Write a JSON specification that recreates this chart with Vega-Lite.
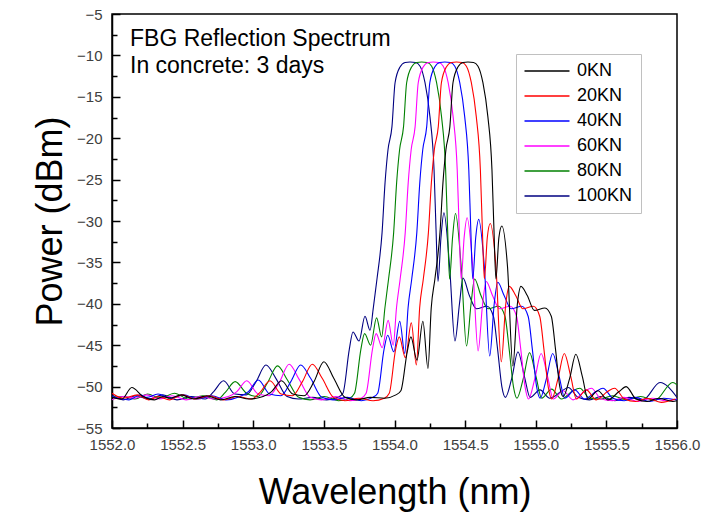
{
"$schema":"https://vega.github.io/schema/vega-lite/v6.json",
"width":565,"height":414,
"autosize":{"type":"none"},
"padding":{"left":112,"top":14,"right":25,"bottom":87},
"background":"white",
"config":{"font":"Liberation Sans","view":{"stroke":"black","strokeWidth":1.5}},
"title":{"text":"FBG Reflection Spectrum","subtitle":"In concrete: 3 days","anchor":"start","frame":"group","orient":"top","offset":-71,"dx":18,"fontSize":23,"fontWeight":"normal","color":"black","subtitleFontSize":23,"subtitleColor":"black","subtitlePadding":4,"font":"Liberation Sans","subtitleFont":"Liberation Sans"},
"datasets":{"spec":[
{"k":"100KN","w":1552.00,"p":-51.0},{"k":"100KN","w":1552.08,"p":-51.6},{"k":"100KN","w":1552.17,"p":-51.1},{"k":"100KN","w":1552.26,"p":-51.5},{"k":"100KN","w":1552.36,"p":-51.0},{"k":"100KN","w":1552.46,"p":-51.6},{"k":"100KN","w":1552.56,"p":-51.2},{"k":"100KN","w":1552.66,"p":-51.5},{"k":"100KN","w":1552.72,"p":-50.6},{"k":"100KN","w":1552.79,"p":-49.3},{"k":"100KN","w":1552.87,"p":-50.9},{"k":"100KN","w":1552.95,"p":-51.0},{"k":"100KN","w":1553.02,"p":-49.4},{"k":"100KN","w":1553.09,"p":-47.4},{"k":"100KN","w":1553.16,"p":-49.0},{"k":"100KN","w":1553.24,"p":-51.2},{"k":"100KN","w":1553.32,"p":-51.5},{"k":"100KN","w":1553.42,"p":-51.3},{"k":"100KN","w":1553.52,"p":-51.6},{"k":"100KN","w":1553.60,"p":-51.3},{"k":"100KN","w":1553.635,"p":-50.8},{"k":"100KN","w":1553.68,"p":-45.5},{"k":"100KN","w":1553.706,"p":-43.4},{"k":"100KN","w":1553.749,"p":-44.5},{"k":"100KN","w":1553.791,"p":-41.5},{"k":"100KN","w":1553.827,"p":-43.2},{"k":"100KN","w":1553.85,"p":-40.5},{"k":"100KN","w":1553.876,"p":-37.0},{"k":"100KN","w":1553.912,"p":-31.4},{"k":"100KN","w":1553.933,"p":-25.4},{"k":"100KN","w":1553.954,"p":-21.4},{"k":"100KN","w":1553.982,"p":-18.6},{"k":"100KN","w":1554.004,"p":-13.3},{"k":"100KN","w":1554.039,"p":-11.4},{"k":"100KN","w":1554.075,"p":-10.85},{"k":"100KN","w":1554.11,"p":-10.8},{"k":"100KN","w":1554.15,"p":-10.85},{"k":"100KN","w":1554.181,"p":-11.3},{"k":"100KN","w":1554.216,"p":-13.3},{"k":"100KN","w":1554.251,"p":-17.4},{"k":"100KN","w":1554.28,"p":-23.8},{"k":"100KN","w":1554.294,"p":-31.0},{"k":"100KN","w":1554.308,"p":-37.3},{"k":"100KN","w":1554.329,"p":-32.0},{"k":"100KN","w":1554.35,"p":-29.0},{"k":"100KN","w":1554.39,"p":-35.5},{"k":"100KN","w":1554.428,"p":-44.5},{"k":"100KN","w":1554.46,"p":-40.0},{"k":"100KN","w":1554.485,"p":-36.9},{"k":"100KN","w":1554.53,"p":-39.0},{"k":"100KN","w":1554.58,"p":-40.6},{"k":"100KN","w":1554.655,"p":-40.3},{"k":"100KN","w":1554.70,"p":-41.5},{"k":"100KN","w":1554.73,"p":-45.5},{"k":"100KN","w":1554.76,"p":-50.0},{"k":"100KN","w":1554.785,"p":-51.3},{"k":"100KN","w":1554.83,"p":-49.0},{"k":"100KN","w":1554.874,"p":-45.8},{"k":"100KN","w":1554.92,"p":-48.8},{"k":"100KN","w":1554.96,"p":-51.3},{"k":"100KN","w":1555.03,"p":-50.4},{"k":"100KN","w":1555.10,"p":-51.4},{"k":"100KN","w":1555.18,"p":-50.6},{"k":"100KN","w":1555.23,"p":-50.1},{"k":"100KN","w":1555.30,"p":-51.3},{"k":"100KN","w":1555.38,"p":-51.6},{"k":"100KN","w":1555.46,"p":-51.2},{"k":"100KN","w":1555.56,"p":-51.7},{"k":"100KN","w":1555.66,"p":-51.3},{"k":"100KN","w":1555.76,"p":-51.6},{"k":"100KN","w":1555.88,"p":-49.5},{"k":"100KN","w":1556.00,"p":-51.3},

{"k":"80KN","w":1552.00,"p":-51.3},{"k":"80KN","w":1552.082,"p":-51.2},{"k":"80KN","w":1552.162,"p":-51.5},{"k":"80KN","w":1552.252,"p":-50.9},{"k":"80KN","w":1552.342,"p":-51.4},{"k":"80KN","w":1552.442,"p":-50.8},{"k":"80KN","w":1552.542,"p":-51.5},{"k":"80KN","w":1552.642,"p":-51.1},{"k":"80KN","w":1552.742,"p":-51.6},{"k":"80KN","w":1552.802,"p":-50.7},{"k":"80KN","w":1552.872,"p":-49.4},{"k":"80KN","w":1552.952,"p":-50.8},{"k":"80KN","w":1553.032,"p":-51.2},{"k":"80KN","w":1553.102,"p":-49.5},{"k":"80KN","w":1553.172,"p":-47.5},{"k":"80KN","w":1553.242,"p":-49.2},{"k":"80KN","w":1553.322,"p":-51.3},{"k":"80KN","w":1553.402,"p":-51.6},{"k":"80KN","w":1553.502,"p":-51.2},{"k":"80KN","w":1553.602,"p":-51.7},{"k":"80KN","w":1553.682,"p":-51.4},{"k":"80KN","w":1553.717,"p":-50.8},{"k":"80KN","w":1553.762,"p":-45.5},{"k":"80KN","w":1553.788,"p":-43.6},{"k":"80KN","w":1553.831,"p":-45.0},{"k":"80KN","w":1553.873,"p":-41.7},{"k":"80KN","w":1553.909,"p":-44.0},{"k":"80KN","w":1553.932,"p":-40.5},{"k":"80KN","w":1553.958,"p":-37.0},{"k":"80KN","w":1553.994,"p":-31.4},{"k":"80KN","w":1554.015,"p":-25.4},{"k":"80KN","w":1554.036,"p":-21.4},{"k":"80KN","w":1554.064,"p":-18.6},{"k":"80KN","w":1554.086,"p":-13.3},{"k":"80KN","w":1554.121,"p":-11.4},{"k":"80KN","w":1554.157,"p":-10.85},{"k":"80KN","w":1554.192,"p":-10.8},{"k":"80KN","w":1554.232,"p":-10.85},{"k":"80KN","w":1554.263,"p":-11.3},{"k":"80KN","w":1554.298,"p":-13.3},{"k":"80KN","w":1554.333,"p":-17.4},{"k":"80KN","w":1554.362,"p":-23.8},{"k":"80KN","w":1554.376,"p":-31.0},{"k":"80KN","w":1554.39,"p":-37.0},{"k":"80KN","w":1554.411,"p":-32.0},{"k":"80KN","w":1554.432,"p":-29.1},{"k":"80KN","w":1554.472,"p":-35.5},{"k":"80KN","w":1554.51,"p":-45.1},{"k":"80KN","w":1554.542,"p":-40.0},{"k":"80KN","w":1554.567,"p":-37.0},{"k":"80KN","w":1554.612,"p":-39.0},{"k":"80KN","w":1554.662,"p":-40.6},{"k":"80KN","w":1554.737,"p":-40.3},{"k":"80KN","w":1554.782,"p":-41.5},{"k":"80KN","w":1554.812,"p":-45.5},{"k":"80KN","w":1554.842,"p":-50.0},{"k":"80KN","w":1554.867,"p":-51.4},{"k":"80KN","w":1554.912,"p":-49.0},{"k":"80KN","w":1554.956,"p":-45.9},{"k":"80KN","w":1555.002,"p":-48.8},{"k":"80KN","w":1555.042,"p":-51.4},{"k":"80KN","w":1555.112,"p":-50.3},{"k":"80KN","w":1555.182,"p":-51.5},{"k":"80KN","w":1555.262,"p":-50.5},{"k":"80KN","w":1555.312,"p":-50.2},{"k":"80KN","w":1555.382,"p":-51.4},{"k":"80KN","w":1555.462,"p":-51.5},{"k":"80KN","w":1555.542,"p":-51.1},{"k":"80KN","w":1555.642,"p":-51.6},{"k":"80KN","w":1555.742,"p":-51.2},{"k":"80KN","w":1555.842,"p":-51.7},{"k":"80KN","w":1555.97,"p":-49.5},{"k":"80KN","w":1556.00,"p":-49.8},

{"k":"60KN","w":1552.00,"p":-51.6},{"k":"60KN","w":1552.08,"p":-51.2},{"k":"60KN","w":1552.164,"p":-51.4},{"k":"60KN","w":1552.244,"p":-51.0},{"k":"60KN","w":1552.334,"p":-51.5},{"k":"60KN","w":1552.424,"p":-51.1},{"k":"60KN","w":1552.524,"p":-51.6},{"k":"60KN","w":1552.624,"p":-51.2},{"k":"60KN","w":1552.724,"p":-51.5},{"k":"60KN","w":1552.824,"p":-51.2},{"k":"60KN","w":1552.884,"p":-50.6},{"k":"60KN","w":1552.954,"p":-49.3},{"k":"60KN","w":1553.034,"p":-50.9},{"k":"60KN","w":1553.114,"p":-51.1},{"k":"60KN","w":1553.184,"p":-49.5},{"k":"60KN","w":1553.254,"p":-47.3},{"k":"60KN","w":1553.324,"p":-49.1},{"k":"60KN","w":1553.404,"p":-51.3},{"k":"60KN","w":1553.484,"p":-51.6},{"k":"60KN","w":1553.584,"p":-51.2},{"k":"60KN","w":1553.684,"p":-51.7},{"k":"60KN","w":1553.764,"p":-51.4},{"k":"60KN","w":1553.799,"p":-50.8},{"k":"60KN","w":1553.844,"p":-45.5},{"k":"60KN","w":1553.87,"p":-43.6},{"k":"60KN","w":1553.913,"p":-45.3},{"k":"60KN","w":1553.955,"p":-42.0},{"k":"60KN","w":1553.991,"p":-45.0},{"k":"60KN","w":1554.014,"p":-40.5},{"k":"60KN","w":1554.04,"p":-37.0},{"k":"60KN","w":1554.076,"p":-31.4},{"k":"60KN","w":1554.097,"p":-25.4},{"k":"60KN","w":1554.118,"p":-21.4},{"k":"60KN","w":1554.146,"p":-18.6},{"k":"60KN","w":1554.168,"p":-13.3},{"k":"60KN","w":1554.203,"p":-11.4},{"k":"60KN","w":1554.239,"p":-10.85},{"k":"60KN","w":1554.274,"p":-10.8},{"k":"60KN","w":1554.314,"p":-10.85},{"k":"60KN","w":1554.345,"p":-11.3},{"k":"60KN","w":1554.38,"p":-13.3},{"k":"60KN","w":1554.415,"p":-17.4},{"k":"60KN","w":1554.444,"p":-23.8},{"k":"60KN","w":1554.458,"p":-31.0},{"k":"60KN","w":1554.472,"p":-37.0},{"k":"60KN","w":1554.493,"p":-32.0},{"k":"60KN","w":1554.514,"p":-29.6},{"k":"60KN","w":1554.554,"p":-35.5},{"k":"60KN","w":1554.592,"p":-45.7},{"k":"60KN","w":1554.624,"p":-40.0},{"k":"60KN","w":1554.649,"p":-37.3},{"k":"60KN","w":1554.694,"p":-39.0},{"k":"60KN","w":1554.744,"p":-40.6},{"k":"60KN","w":1554.819,"p":-40.3},{"k":"60KN","w":1554.864,"p":-41.5},{"k":"60KN","w":1554.894,"p":-45.5},{"k":"60KN","w":1554.924,"p":-50.0},{"k":"60KN","w":1554.949,"p":-51.5},{"k":"60KN","w":1554.994,"p":-49.0},{"k":"60KN","w":1555.038,"p":-46.0},{"k":"60KN","w":1555.084,"p":-48.8},{"k":"60KN","w":1555.124,"p":-51.5},{"k":"60KN","w":1555.194,"p":-50.5},{"k":"60KN","w":1555.264,"p":-51.6},{"k":"60KN","w":1555.344,"p":-50.6},{"k":"60KN","w":1555.394,"p":-50.2},{"k":"60KN","w":1555.464,"p":-51.5},{"k":"60KN","w":1555.544,"p":-51.7},{"k":"60KN","w":1555.624,"p":-51.3},{"k":"60KN","w":1555.724,"p":-51.8},{"k":"60KN","w":1555.824,"p":-51.4},{"k":"60KN","w":1555.924,"p":-51.7},{"k":"60KN","w":1556.00,"p":-51.5},

{"k":"40KN","w":1552.00,"p":-51.2},{"k":"40KN","w":1552.12,"p":-51.6},{"k":"40KN","w":1552.20,"p":-51.0},{"k":"40KN","w":1552.246,"p":-51.3},{"k":"40KN","w":1552.326,"p":-50.9},{"k":"40KN","w":1552.416,"p":-51.4},{"k":"40KN","w":1552.506,"p":-51.0},{"k":"40KN","w":1552.606,"p":-51.5},{"k":"40KN","w":1552.706,"p":-51.1},{"k":"40KN","w":1552.806,"p":-51.6},{"k":"40KN","w":1552.906,"p":-51.2},{"k":"40KN","w":1552.966,"p":-50.6},{"k":"40KN","w":1553.036,"p":-49.2},{"k":"40KN","w":1553.116,"p":-50.9},{"k":"40KN","w":1553.196,"p":-51.1},{"k":"40KN","w":1553.266,"p":-49.4},{"k":"40KN","w":1553.336,"p":-47.4},{"k":"40KN","w":1553.406,"p":-49.0},{"k":"40KN","w":1553.486,"p":-51.3},{"k":"40KN","w":1553.566,"p":-51.6},{"k":"40KN","w":1553.666,"p":-51.3},{"k":"40KN","w":1553.766,"p":-51.7},{"k":"40KN","w":1553.846,"p":-51.3},{"k":"40KN","w":1553.881,"p":-50.8},{"k":"40KN","w":1553.926,"p":-45.5},{"k":"40KN","w":1553.952,"p":-43.8},{"k":"40KN","w":1553.995,"p":-45.8},{"k":"40KN","w":1554.037,"p":-42.1},{"k":"40KN","w":1554.073,"p":-46.0},{"k":"40KN","w":1554.096,"p":-40.5},{"k":"40KN","w":1554.122,"p":-37.0},{"k":"40KN","w":1554.158,"p":-31.4},{"k":"40KN","w":1554.179,"p":-25.4},{"k":"40KN","w":1554.2,"p":-21.4},{"k":"40KN","w":1554.228,"p":-18.6},{"k":"40KN","w":1554.25,"p":-13.3},{"k":"40KN","w":1554.285,"p":-11.4},{"k":"40KN","w":1554.321,"p":-10.85},{"k":"40KN","w":1554.356,"p":-10.8},{"k":"40KN","w":1554.396,"p":-10.85},{"k":"40KN","w":1554.427,"p":-11.3},{"k":"40KN","w":1554.462,"p":-13.3},{"k":"40KN","w":1554.497,"p":-17.4},{"k":"40KN","w":1554.526,"p":-23.8},{"k":"40KN","w":1554.54,"p":-31.0},{"k":"40KN","w":1554.554,"p":-37.0},{"k":"40KN","w":1554.575,"p":-32.0},{"k":"40KN","w":1554.596,"p":-29.8},{"k":"40KN","w":1554.636,"p":-35.5},{"k":"40KN","w":1554.674,"p":-46.3},{"k":"40KN","w":1554.706,"p":-40.0},{"k":"40KN","w":1554.731,"p":-37.4},{"k":"40KN","w":1554.776,"p":-39.0},{"k":"40KN","w":1554.826,"p":-40.6},{"k":"40KN","w":1554.901,"p":-40.3},{"k":"40KN","w":1554.946,"p":-41.5},{"k":"40KN","w":1554.976,"p":-45.5},{"k":"40KN","w":1555.006,"p":-50.0},{"k":"40KN","w":1555.031,"p":-51.4},{"k":"40KN","w":1555.076,"p":-49.0},{"k":"40KN","w":1555.12,"p":-46.0},{"k":"40KN","w":1555.166,"p":-48.8},{"k":"40KN","w":1555.206,"p":-51.4},{"k":"40KN","w":1555.276,"p":-50.4},{"k":"40KN","w":1555.346,"p":-51.5},{"k":"40KN","w":1555.426,"p":-50.6},{"k":"40KN","w":1555.476,"p":-50.2},{"k":"40KN","w":1555.546,"p":-51.4},{"k":"40KN","w":1555.626,"p":-51.7},{"k":"40KN","w":1555.706,"p":-51.3},{"k":"40KN","w":1555.806,"p":-51.8},{"k":"40KN","w":1555.906,"p":-51.4},{"k":"40KN","w":1556.00,"p":-51.6},

{"k":"20KN","w":1552.00,"p":-50.8},{"k":"20KN","w":1552.08,"p":-51.4},{"k":"20KN","w":1552.18,"p":-51.0},{"k":"20KN","w":1552.26,"p":-51.6},{"k":"20KN","w":1552.328,"p":-51.2},{"k":"20KN","w":1552.408,"p":-51.6},{"k":"20KN","w":1552.498,"p":-51.0},{"k":"20KN","w":1552.588,"p":-51.5},{"k":"20KN","w":1552.688,"p":-51.1},{"k":"20KN","w":1552.788,"p":-51.6},{"k":"20KN","w":1552.888,"p":-51.2},{"k":"20KN","w":1552.988,"p":-51.5},{"k":"20KN","w":1553.048,"p":-50.7},{"k":"20KN","w":1553.118,"p":-49.3},{"k":"20KN","w":1553.198,"p":-50.9},{"k":"20KN","w":1553.278,"p":-51.1},{"k":"20KN","w":1553.348,"p":-49.4},{"k":"20KN","w":1553.418,"p":-47.3},{"k":"20KN","w":1553.488,"p":-49.0},{"k":"20KN","w":1553.568,"p":-51.3},{"k":"20KN","w":1553.648,"p":-51.7},{"k":"20KN","w":1553.748,"p":-51.4},{"k":"20KN","w":1553.848,"p":-51.7},{"k":"20KN","w":1553.928,"p":-51.4},{"k":"20KN","w":1553.963,"p":-50.8},{"k":"20KN","w":1554.008,"p":-45.5},{"k":"20KN","w":1554.034,"p":-44.0},{"k":"20KN","w":1554.077,"p":-46.5},{"k":"20KN","w":1554.119,"p":-42.3},{"k":"20KN","w":1554.155,"p":-47.4},{"k":"20KN","w":1554.178,"p":-40.5},{"k":"20KN","w":1554.204,"p":-37.0},{"k":"20KN","w":1554.24,"p":-31.4},{"k":"20KN","w":1554.261,"p":-25.4},{"k":"20KN","w":1554.282,"p":-21.4},{"k":"20KN","w":1554.31,"p":-18.6},{"k":"20KN","w":1554.332,"p":-13.3},{"k":"20KN","w":1554.367,"p":-11.4},{"k":"20KN","w":1554.403,"p":-10.85},{"k":"20KN","w":1554.438,"p":-10.8},{"k":"20KN","w":1554.478,"p":-10.85},{"k":"20KN","w":1554.509,"p":-11.3},{"k":"20KN","w":1554.544,"p":-13.3},{"k":"20KN","w":1554.579,"p":-17.4},{"k":"20KN","w":1554.608,"p":-23.8},{"k":"20KN","w":1554.622,"p":-31.0},{"k":"20KN","w":1554.636,"p":-37.0},{"k":"20KN","w":1554.657,"p":-32.0},{"k":"20KN","w":1554.678,"p":-30.3},{"k":"20KN","w":1554.718,"p":-35.5},{"k":"20KN","w":1554.756,"p":-47.0},{"k":"20KN","w":1554.788,"p":-40.0},{"k":"20KN","w":1554.813,"p":-37.9},{"k":"20KN","w":1554.858,"p":-39.0},{"k":"20KN","w":1554.908,"p":-40.6},{"k":"20KN","w":1554.983,"p":-40.3},{"k":"20KN","w":1555.028,"p":-41.5},{"k":"20KN","w":1555.058,"p":-45.5},{"k":"20KN","w":1555.088,"p":-50.0},{"k":"20KN","w":1555.113,"p":-51.5},{"k":"20KN","w":1555.158,"p":-49.0},{"k":"20KN","w":1555.202,"p":-46.0},{"k":"20KN","w":1555.248,"p":-48.8},{"k":"20KN","w":1555.288,"p":-51.5},{"k":"20KN","w":1555.358,"p":-50.4},{"k":"20KN","w":1555.428,"p":-51.6},{"k":"20KN","w":1555.508,"p":-50.6},{"k":"20KN","w":1555.558,"p":-50.2},{"k":"20KN","w":1555.628,"p":-51.5},{"k":"20KN","w":1555.708,"p":-51.8},{"k":"20KN","w":1555.788,"p":-51.4},{"k":"20KN","w":1555.888,"p":-51.9},{"k":"20KN","w":1555.988,"p":-51.5},

{"k":"0KN","w":1552.00,"p":-51.3},{"k":"0KN","w":1552.07,"p":-51.5},{"k":"0KN","w":1552.14,"p":-50.1},{"k":"0KN","w":1552.22,"p":-51.2},{"k":"0KN","w":1552.30,"p":-51.6},{"k":"0KN","w":1552.36,"p":-51.2},{"k":"0KN","w":1552.41,"p":-51.4},{"k":"0KN","w":1552.49,"p":-51.0},{"k":"0KN","w":1552.58,"p":-51.5},{"k":"0KN","w":1552.67,"p":-51.1},{"k":"0KN","w":1552.77,"p":-51.6},{"k":"0KN","w":1552.87,"p":-51.2},{"k":"0KN","w":1552.97,"p":-51.5},{"k":"0KN","w":1553.07,"p":-51.2},{"k":"0KN","w":1553.13,"p":-50.6},{"k":"0KN","w":1553.20,"p":-49.3},{"k":"0KN","w":1553.28,"p":-50.9},{"k":"0KN","w":1553.36,"p":-51.1},{"k":"0KN","w":1553.43,"p":-49.4},{"k":"0KN","w":1553.50,"p":-47.0},{"k":"0KN","w":1553.57,"p":-49.0},{"k":"0KN","w":1553.65,"p":-51.3},{"k":"0KN","w":1553.73,"p":-51.6},{"k":"0KN","w":1553.83,"p":-51.3},{"k":"0KN","w":1553.93,"p":-51.4},{"k":"0KN","w":1554.01,"p":-51.0},{"k":"0KN","w":1554.045,"p":-50.5},{"k":"0KN","w":1554.09,"p":-45.8},{"k":"0KN","w":1554.116,"p":-44.0},{"k":"0KN","w":1554.159,"p":-46.8},{"k":"0KN","w":1554.201,"p":-42.1},{"k":"0KN","w":1554.237,"p":-47.8},{"k":"0KN","w":1554.26,"p":-40.5},{"k":"0KN","w":1554.286,"p":-37.0},{"k":"0KN","w":1554.322,"p":-31.4},{"k":"0KN","w":1554.343,"p":-25.4},{"k":"0KN","w":1554.364,"p":-21.4},{"k":"0KN","w":1554.392,"p":-18.6},{"k":"0KN","w":1554.414,"p":-13.3},{"k":"0KN","w":1554.449,"p":-11.4},{"k":"0KN","w":1554.485,"p":-10.85},{"k":"0KN","w":1554.52,"p":-10.8},{"k":"0KN","w":1554.56,"p":-10.85},{"k":"0KN","w":1554.591,"p":-11.3},{"k":"0KN","w":1554.626,"p":-13.3},{"k":"0KN","w":1554.661,"p":-17.4},{"k":"0KN","w":1554.69,"p":-23.8},{"k":"0KN","w":1554.704,"p":-31.0},{"k":"0KN","w":1554.718,"p":-37.0},{"k":"0KN","w":1554.739,"p":-32.0},{"k":"0KN","w":1554.76,"p":-30.6},{"k":"0KN","w":1554.80,"p":-35.5},{"k":"0KN","w":1554.838,"p":-47.5},{"k":"0KN","w":1554.87,"p":-40.0},{"k":"0KN","w":1554.895,"p":-37.9},{"k":"0KN","w":1554.94,"p":-39.0},{"k":"0KN","w":1554.99,"p":-40.8},{"k":"0KN","w":1555.065,"p":-40.5},{"k":"0KN","w":1555.11,"p":-41.5},{"k":"0KN","w":1555.14,"p":-45.5},{"k":"0KN","w":1555.17,"p":-50.0},{"k":"0KN","w":1555.195,"p":-51.2},{"k":"0KN","w":1555.24,"p":-49.0},{"k":"0KN","w":1555.284,"p":-46.1},{"k":"0KN","w":1555.33,"p":-48.8},{"k":"0KN","w":1555.37,"p":-51.5},{"k":"0KN","w":1555.44,"p":-50.5},{"k":"0KN","w":1555.51,"p":-51.6},{"k":"0KN","w":1555.59,"p":-50.6},{"k":"0KN","w":1555.64,"p":-50.0},{"k":"0KN","w":1555.71,"p":-51.5},{"k":"0KN","w":1555.79,"p":-51.8},{"k":"0KN","w":1555.87,"p":-51.4},{"k":"0KN","w":1555.97,"p":-51.8},{"k":"0KN","w":1556.00,"p":-51.7}
]},
"data":{"name":"spec"},
"layer":[
{"mark":{"type":"line","strokeWidth":1.1,"clip":true,"interpolate":"monotone"},
"encoding":{
"x":{"field":"w","type":"quantitative","scale":{"domain":[1552,1556],"nice":false,"zero":false},
"axis":{"values":[1552,1552.5,1553,1553.5,1554,1554.5,1555,1555.5,1556],"format":".1f","orient":"bottom","grid":false,"tickSize":-8,"tickWidth":1.5,"tickColor":"black","domainColor":"black","domainWidth":1.5,"labelFontSize":15,"labelColor":"#404040","labelPadding":17,"labelFlush":false,"title":"Wavelength (nm)","titleFontSize":36,"titleFontWeight":"normal","titleColor":"black","titlePadding":23}},
"y":{"field":"p","type":"quantitative","scale":{"domain":[-55,-5],"nice":false,"zero":false},
"axis":{"values":[-55,-50,-45,-40,-35,-30,-25,-20,-15,-10,-5],"orient":"left","grid":false,"tickSize":-8,"tickWidth":1.5,"tickColor":"black","domainColor":"black","domainWidth":1.5,"labelFontSize":15,"labelColor":"#404040","labelPadding":18,"labelFlush":false,"title":"Power (dBm)","titleFontSize":36,"titleFontWeight":"normal","titleColor":"black","titlePadding":7}},
"color":{"field":"k","type":"nominal","sort":["0KN","20KN","40KN","60KN","80KN","100KN"],
"scale":{"domain":["0KN","20KN","40KN","60KN","80KN","100KN"],"range":["#000000","#ff0000","#0000ff","#ff00ff","#008000","#000080"]},
"legend":{"orient":"none","legendX":404,"legendY":40,"title":null,"symbolType":"M-4,0H4","symbolSize":126.5,"symbolOffset":14,"symbolStrokeWidth":1.5,"labelFontSize":18,"labelColor":"black","labelFont":"Liberation Sans","labelOffset":21,"strokeColor":"#c0c0c0","fillColor":"white","padding":8,"rowPadding":7}}
}},
{"mark":{"type":"point","opacity":0},
"encoding":{
"x":{"field":"w","type":"quantitative","axis":{"values":[1552.25,1552.75,1553.25,1553.75,1554.25,1554.75,1555.25,1555.75],"orient":"bottom","grid":false,"labels":false,"domain":false,"tickSize":-5,"tickWidth":1.5,"tickColor":"black","title":null}},
"y":{"field":"p","type":"quantitative","axis":{"values":[-52.5,-47.5,-42.5,-37.5,-32.5,-27.5,-22.5,-17.5,-12.5,-7.5],"orient":"left","grid":false,"labels":false,"domain":false,"tickSize":-5,"tickWidth":1.5,"tickColor":"black","title":null}}
}}
],
"resolve":{"axis":{"x":"independent","y":"independent"}}
}
